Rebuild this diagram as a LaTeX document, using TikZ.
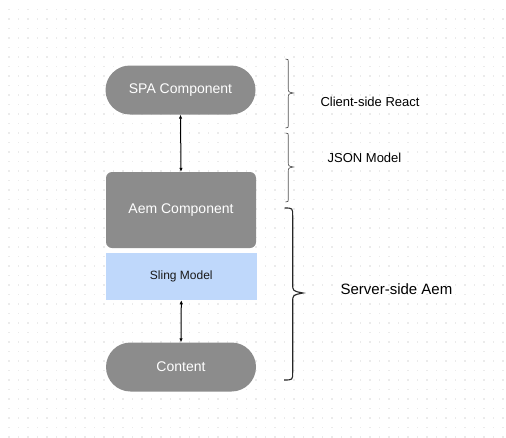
\documentclass[tikz,border=0pt]{standalone}
\usepackage{fontspec}
\setmainfont{Liberation Sans}
\usetikzlibrary{arrows.meta}
\definecolor{boxgray}{HTML}{8C8C8C}
\definecolor{slingblue}{HTML}{BFD8FB}
\definecolor{griddot}{HTML}{EBEBEB}
\definecolor{bracegray}{HTML}{555555}
\tikzset{
  graybox/.style={draw=none, fill=boxgray, text=white, inner sep=0pt,
    minimum width=150pt, font=\fontsize{14}{16}\selectfont},
  pill/.style={graybox, rounded corners=24.5pt, minimum height=49pt},
  squarish/.style={graybox, rounded corners=6pt, minimum height=76pt},
  bluebox/.style={draw=none, fill=slingblue, text=black!90, inner sep=0pt,
    minimum width=150.5pt, minimum height=46.7pt, font=\fontsize{12}{14}\selectfont},
  lab/.style={inner sep=0pt, text=black, font=\fontsize{13}{15}\selectfont},
  biglab/.style={inner sep=0pt, text=black, font=\fontsize{15}{17}\selectfont},
  link/.style={draw=black, line width=1pt, {Latex[length=4pt,width=3.5pt]}-{Latex[length=4pt,width=3.5pt]}},
  thinbrace/.style={draw=bracegray, line width=0.7pt},
  thickbrace/.style={draw=black!85, line width=1.1pt}
}
\begin{document}
\begin{tikzpicture}[x=1pt,y=-1pt]
\useasboundingbox (0,0) rectangle (506,437);
\fill[white] (0,0) rectangle (506,437);
% dot grid
\foreach \i in {0,...,52}{
  \foreach \j in {0,...,45}{
    \fill[griddot] ({9+9.5*\i-0.8},{9.3+9.5*\j-0.8}) rectangle ++(1.6,1.6);
  }
}
% boxes
\node[pill] (spa) at (180.5,90) {SPA Component};
\node[squarish] (aem) at (181,210) {Aem Component};
\node[bluebox] (sling) at (181.3,276.7) {Sling Model};
\node[pill] (content) at (181,367) {Content};
% connectors
\draw[link] (spa.south) -- (aem.north);
\draw[link] (sling.south) -- (content.north);
% braces
\draw[thinbrace] (285.5,59) .. controls (288.3,59) .. (288.3,64) -- (288.3,88)
  .. controls (288.3,92) .. (293.3,93) .. controls (288.3,94) .. (288.3,98)
  -- (288.3,123) .. controls (288.3,128) .. (285.5,128);
\draw[thinbrace] (285.5,133) .. controls (288.3,133) .. (288.3,138) -- (288.3,162)
  .. controls (288.3,166) .. (293.3,167) .. controls (288.3,168) .. (288.3,172)
  -- (288.3,197) .. controls (288.3,202) .. (285.5,202);
\draw[thickbrace] (284.5,208) .. controls (292.7,208) .. (292.7,216) -- (292.7,284)
  .. controls (292.7,291) .. (303,293) .. controls (292.7,295) .. (292.7,302)
  -- (292.7,372) .. controls (292.7,380) .. (284,380);
% labels
\node[lab] (client) at (370,102) {Client-side React};
\node[lab] (json) at (364.5,158) {JSON Model};
\node[biglab] (server) at (396.5,289) {Server-side Aem};
\end{tikzpicture}
\end{document}
